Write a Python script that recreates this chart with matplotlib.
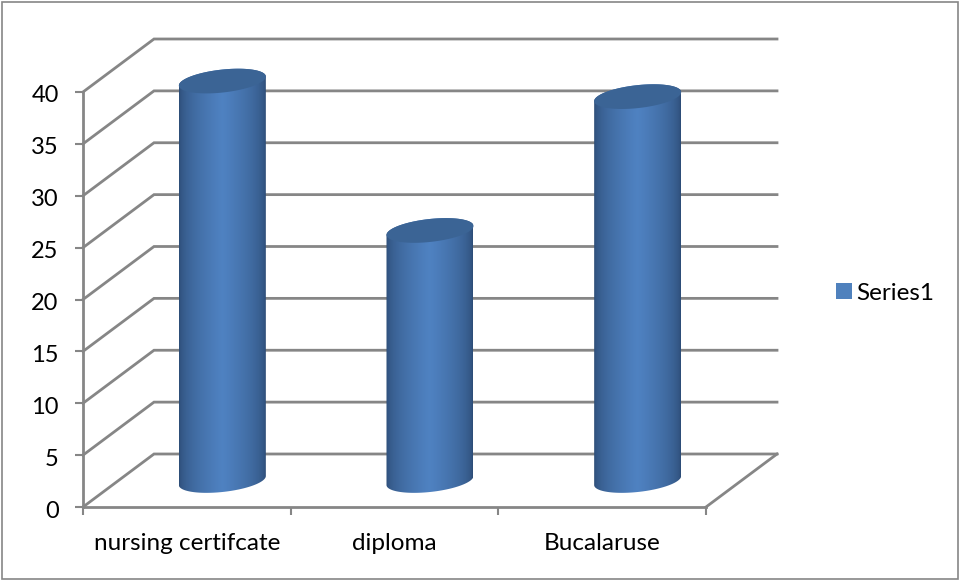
import numpy as np
import matplotlib
matplotlib.use('Agg')
from matplotlib import pyplot as plt
from matplotlib.patches import Patch, Polygon, Rectangle
from matplotlib.transforms import ScaledTranslation

categories = ['nursing certifcate', 'diploma', 'Bucalaruse']
values = [38.5, 24.1, 37]
yticks = [0, 5, 10, 15, 20, 25, 30, 35, 40]
series_name = 'Series1'

W, H = 961, 581
LEFT, RIGHT, BOTTOM, TOP = 83, 706, 507, 92  # plot front plane in pixels
GRID = '#868686'

plt.rcParams['font.family'] = ['Lato', 'DejaVu Sans']

fig = plt.figure(figsize=(W / 100, H / 100), dpi=100)
ax = fig.add_axes([LEFT / W, 1 - BOTTOM / H, (RIGHT - LEFT) / W, (BOTTOM - TOP) / H])
ax.set_xlim(0, len(categories))
ax.set_ylim(0, 40)
ax.patch.set_alpha(0)

# depth of the 3d box, in data units
px_x = len(categories) / (RIGHT - LEFT)
px_y = 40 / (BOTTOM - TOP)
depth_x = 71 * px_x
depth_y = 53 * px_y

# walls and floor
for v in yticks:
    ax.plot([0, depth_x, len(categories) + depth_x], [v, v + depth_y, v + depth_y],
            color=GRID, lw=2, clip_on=False, zorder=1, solid_joinstyle='miter')
ax.plot([len(categories), len(categories) + depth_x], [0, depth_y], color=GRID, lw=2, clip_on=False, zorder=1)

# gradient across the cylinder
pos = np.linspace(0, 1, 256)
dark = np.array([0.17, 0.29, 0.45])
light = np.array([0.31, 0.51, 0.76])
blend = np.clip(1 - np.abs(pos - 0.5) / 0.5, 0, 1) ** 0.5
grad = (dark[None, :] + (light - dark)[None, :] * blend[:, None])[None, :, :]

a = 43.5 * px_x
b = 11.5 * px_y
s = 4.5 * px_y
t = np.linspace(0, 2 * np.pi, 200)

for i, val in enumerate(values):
    cx = i + 0.5 + depth_x / 2
    base = depth_y / 2

    # body: bottom half of the base ellipse and then the top ellipse edge
    t1 = np.linspace(np.pi, 2 * np.pi, 100)
    low = np.c_[cx + a * np.cos(t1), base + b * np.sin(t1) + s * np.cos(t1)]
    t2 = np.linspace(0, np.pi, 100)
    high = np.c_[cx + a * np.cos(t2), base + val + b * np.sin(t2) + s * np.cos(t2)]
    body = Polygon(np.r_[low, high], closed=True, transform=ax.transData, fc='none', ec='none')
    ax.add_patch(body)
    im = ax.imshow(grad, extent=[cx - a, cx + a, 0, 45], aspect='auto', zorder=3)
    im.set_clip_box(fig.bbox)
    im.set_clip_path(body)

    top = np.c_[cx + a * np.cos(t), base + val + b * np.sin(t) + s * np.cos(t)]
    ax.add_patch(Polygon(top, closed=True, fc='#3b6495', ec='none', zorder=4, clip_on=False))

ax.set_xlim(0, len(categories))
ax.set_ylim(0, 40)

for side in ['top', 'right']:
    ax.spines[side].set_visible(False)
for side in ['left', 'bottom']:
    ax.spines[side].set_color(GRID)
    ax.spines[side].set_linewidth(2)

ax.set_yticks(yticks)
ax.set_xticks(range(len(categories) + 1))
ax.set_xticklabels([])
ax.set_xticks(np.arange(len(categories)) + 0.5, minor=True)
ax.set_xticklabels(categories, minor=True)
ax.tick_params(axis='x', which='major', length=5.5, width=1.5, color=GRID)
ax.tick_params(axis='x', which='minor', length=0, pad=19, labelsize=17.5, labelcolor='black')
ax.tick_params(axis='y', length=5.5, width=1.5, color=GRID, pad=12, labelsize=17, labelcolor='black')

# numbers sit a little under their ticks
for label in ax.get_yticklabels():
    label.set_transform(label.get_transform() + ScaledTranslation(0, -2 / 100, fig.dpi_scale_trans))

handle = Patch(facecolor='#4f81bd', edgecolor='none', label=series_name)
fig.legend(handles=[handle], loc='center left', bbox_to_anchor=(817 / W, 1 - 293 / H), frameon=False,
           fontsize=17.5, handlelength=0.63, handleheight=0.63, handletextpad=0.2, borderpad=0.3)

# outer chart border
fig.add_artist(Rectangle((1.5 / W, 2 / H), 956 / W, 577 / H, transform=fig.transFigure,
                         fc='none', ec='#868686', lw=1.2))

fig.savefig('out.png', dpi=100)
